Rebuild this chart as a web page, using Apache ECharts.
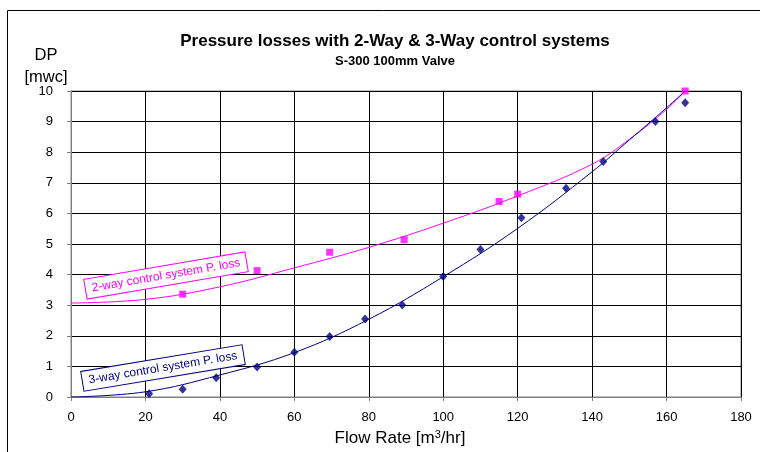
<!DOCTYPE html>
<html>
<head>
<meta charset="utf-8">
<script src="https://cdn.jsdelivr.net/npm/echarts@6/dist/echarts.min.js"></script>
<style>html,body{margin:0;padding:0;background:#fff}#c{width:760px;height:452px}</style>
</head>
<body>
<div id="c"></div>
<script>
// Measured points (Flow Rate m3/hr, DP mwc)
const threeWayFlow = [21, 30, 39, 50, 60, 69.5, 79, 89, 100, 110, 121, 133, 143, 157, 165];
const threeWayDP   = [0.11, 0.25, 0.63, 0.98, 1.46, 1.98, 2.55, 3.01, 3.94, 4.82, 5.86, 6.82, 7.70, 9.00, 9.62];
const twoWayFlow   = [30, 50, 69.5, 89.5, 115, 120, 165];
const twoWayDP     = [3.36, 4.13, 4.73, 5.14, 6.39, 6.63, 10.0];
// Trendlines
const trend3Flow = [0, 20, 40, 60, 80, 100, 120, 140, 150, 160, 165];
const trend3DP   = [0, 0.17, 0.72, 1.45, 2.54, 3.93, 5.51, 7.36, 8.40, 9.45, 10.0];
const trend2Flow = [0, 20, 40, 60, 80, 100, 120, 140, 150, 160, 165];
const trend2DP   = [3.07, 3.19, 3.6, 4.22, 4.89, 5.68, 6.57, 7.61, 8.42, 9.4, 10.0];
const xTicks = [0, 20, 40, 60, 80, 100, 120, 140, 160, 180];
const yTicks = [0, 1, 2, 3, 4, 5, 6, 7, 8, 9, 10];

const zip = (a, b) => a.map((v, i) => [v, b[i]]);
const FONT = '"Liberation Sans", Arial, sans-serif';
const NAVY = '#000080', MAG = '#FF00FF';

const chart = echarts.init(document.getElementById('c'));
chart.setOption({
  animation: false,
  backgroundColor: '#fff',
  textStyle: { fontFamily: FONT },
  title: [
    { text: 'Pressure losses with 2-Way & 3-Way control systems', left: 390, top: 28, textAlign: 'center',
      textStyle: { fontFamily: FONT, fontSize: 17, fontWeight: 'bold', color: '#000' } },
    { text: 'S-300 100mm Valve', left: 390, top: 50, textAlign: 'center',
      textStyle: { fontFamily: FONT, fontSize: 13, fontWeight: 'bold', color: '#000' } }
  ],
  grid: { left: 71, right: 19, top: 91, bottom: 55, show: true, borderColor: '#808080', borderWidth: 1 },
  xAxis: {
    type: 'value', min: xTicks[0], max: xTicks[xTicks.length - 1], interval: 20,
    axisLine: { show: true, lineStyle: { color: '#808080', width: 1 } },
    axisTick: { show: true, length: 4, lineStyle: { color: '#808080' } },
    axisLabel: { color: '#000', fontSize: 13, margin: 14, fontFamily: FONT },
    splitLine: { show: true, lineStyle: { color: '#000', width: 1 } }
  },
  yAxis: {
    type: 'value', min: yTicks[0], max: yTicks[yTicks.length - 1], interval: 1,
    axisLine: { show: true, lineStyle: { color: '#808080', width: 1 } },
    axisTick: { show: true, length: 4, lineStyle: { color: '#808080' } },
    axisLabel: { color: '#000', fontSize: 13, margin: 18, fontFamily: FONT },
    splitLine: { show: true, lineStyle: { color: '#000', width: 1 } }
  },
  graphic: [
    { type: 'polyline', shape: { points: [[7.5, 452], [7.5, 10.5], [760, 10.5]] },
      style: { stroke: '#000', lineWidth: 1, fill: null }, silent: true },
    { type: 'text', x: 46, y: 55, style: { text: 'DP', font: '16.5px ' + FONT, fill: '#000', align: 'center', verticalAlign: 'middle' } },
    { type: 'text', x: 46, y: 77, style: { text: '[mwc]', font: '16.5px ' + FONT, fill: '#000', align: 'center', verticalAlign: 'middle' } },
    { type: 'text', x: 400, y: 438, style: { text: '{a|Flow Rate [m}{s|3}{a|/hr]}', align: 'center', verticalAlign: 'middle',
        rich: { a: { fontFamily: FONT, fontSize: 17, fill: '#000' }, s: { fontFamily: FONT, fontSize: 11, fill: '#000', verticalAlign: 'top', padding: [0, 0, 6, 0] } } } },
    { type: 'text', x: 166, y: 275.5, rotation: 9.7 * Math.PI / 180, z: 100,
      style: { text: '2-way control system P. loss', font: '12px ' + FONT, fill: MAG, align: 'center', verticalAlign: 'middle',
        backgroundColor: '#fff', borderColor: MAG, borderWidth: 1, padding: [4, 6, 3, 6] } },
    { type: 'text', x: 163, y: 368, rotation: 9.4 * Math.PI / 180, z: 100,
      style: { text: '3-way control system P. loss', font: '12px ' + FONT, fill: NAVY, align: 'center', verticalAlign: 'middle',
        backgroundColor: '#fff', borderColor: NAVY, borderWidth: 1, padding: [4, 6, 3, 6] } }
  ],
  series: [
    { type: 'line', data: zip(trend2Flow, trend2DP), smooth: 0.4, showSymbol: false, lineStyle: { color: MAG, width: 1 }, z: 3 },
    { type: 'line', data: zip(trend3Flow, trend3DP), smooth: 0.4, showSymbol: false, lineStyle: { color: NAVY, width: 1 }, z: 3 },
    { type: 'scatter', data: zip(twoWayFlow, twoWayDP), symbol: 'rect', symbolSize: 7, itemStyle: { color: MAG }, z: 4 },
    { type: 'scatter', data: zip(threeWayFlow, threeWayDP), symbol: 'diamond', symbolSize: [8, 9], itemStyle: { color: NAVY }, z: 4 }
  ]
});
</script>
</body>
</html>
